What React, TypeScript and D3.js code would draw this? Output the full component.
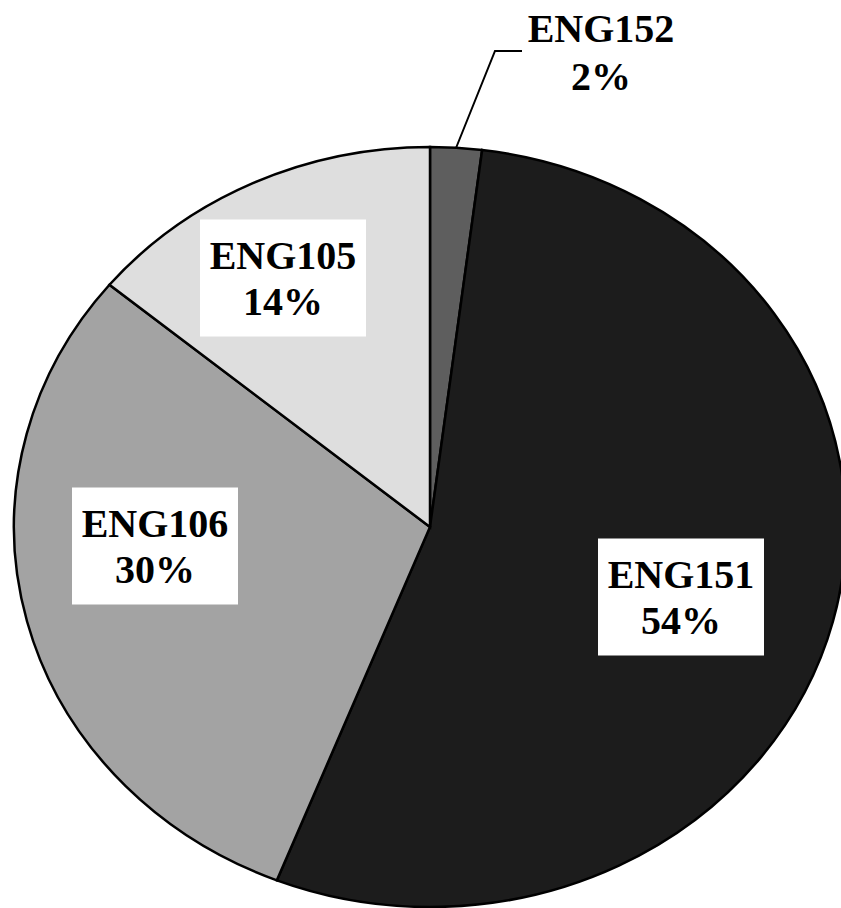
import React from "react";
import * as d3 from "d3";

const categories = ["ENG152", "ENG151", "ENG106", "ENG105"];
const values = [2, 54, 30, 14];
const percentLabels = ["2%", "54%", "30%", "14%"];

const fills = ["#5e5e5e", "#1c1c1c", "#a3a3a3", "#dedede"];
// label box anchors (relative to pie centre, in px); null = outside label with leader
const boxAnchors: ([number, number] | null)[] = [null, [251, 70], [-275, 19], [-147, -249]];

const W = 841;
const H = 908;
const CX = 430;
const CY = 527;
const RY = 380;
const RX = 416;

export default function App() {
  const data = categories.map((c, i) => ({ c, v: values[i], p: percentLabels[i], i }));
  const pie = d3.pie<any>().sort(null).value((d) => d.v).startAngle(0).endAngle(2 * Math.PI);
  const arcs = pie(data);
  const arc = d3.arc<any>().innerRadius(0).outerRadius(RY);
  const sx = RX / RY;

  const font = "'Liberation Serif', 'Times New Roman', serif";
  const boxW = 166;
  const boxH = 117;

  const outside = arcs[0];
  const mid = (outside.startAngle + outside.endAngle) / 2;
  const ex = CX + RX * Math.sin(mid);
  const ey = CY - RY * Math.cos(mid);

  return (
    <div style={{ position: "absolute", left: 0, top: 0 }}>
      <svg width={W} height={H} style={{ display: "block", background: "#fff" }}>
        <g transform={`translate(${CX},${CY}) scale(${sx},1)`}>
          {arcs.map((a, i) => (
            <path
              key={i}
              d={arc(a) as string}
              fill={fills[i]}
              stroke="#000"
              strokeWidth={2.5}
              vectorEffect="non-scaling-stroke"
            />
          ))}
        </g>
        {arcs.map((a, i) => {
          const anc = boxAnchors[i];
          if (!anc) return null;
          const x = CX + anc[0];
          const y = CY + anc[1];
          return (
            <g key={"l" + i}>
              <rect x={x - boxW / 2} y={y - boxH / 2} width={boxW} height={boxH} fill="#fff" />
              <text
                x={x}
                y={y - 9.5}
                textAnchor="middle"
                fontFamily={font}
                fontWeight="bold"
                fontSize={40}
                fill="#000"
              >
                {a.data.c}
              </text>
              <text
                x={x}
                y={y + 36.5}
                textAnchor="middle"
                fontFamily={font}
                fontWeight="bold"
                fontSize={40}
                fill="#000"
              >
                {a.data.p}
              </text>
            </g>
          );
        })}
        <polyline
          points={`${ex},${ey} 495,51 522,51`}
          fill="none"
          stroke="#000"
          strokeWidth={2}
        />
        <text x={601} y={42} textAnchor="middle" fontFamily={font} fontWeight="bold" fontSize={40} fill="#000">
          {outside.data.c}
        </text>
        <text x={601} y={90} textAnchor="middle" fontFamily={font} fontWeight="bold" fontSize={40} fill="#000">
          {outside.data.p}
        </text>
      </svg>
    </div>
  );
}
